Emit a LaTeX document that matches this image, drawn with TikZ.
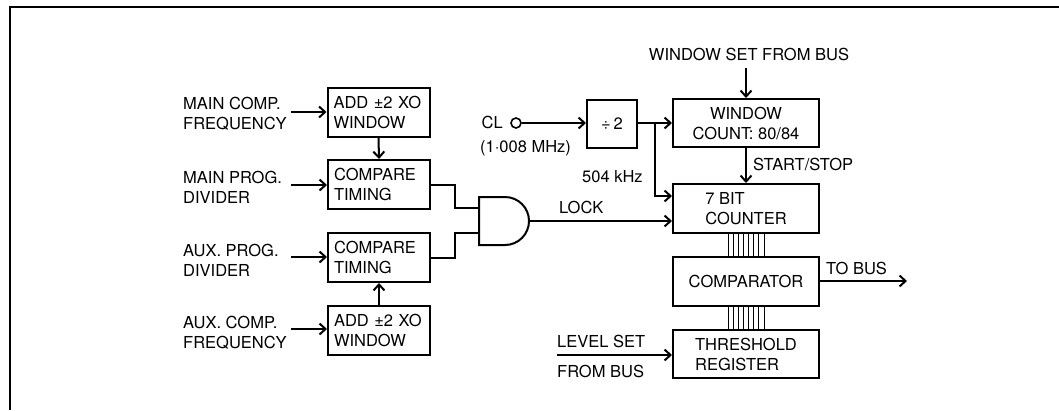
\documentclass[tikz,border=0pt]{standalone}
\usepackage{fontspec}
\setmainfont{TeX Gyre Heros}
\usetikzlibrary{arrows.meta,calc}
\begin{document}
\begin{tikzpicture}[x=1pt,y=-1pt,
  every node/.style={font=\fontsize{16.5}{20}\selectfont, inner sep=0pt},
  blk/.style={draw, line width=2pt, minimum width=102pt, minimum height=49pt},
  wblk/.style={draw, line width=2pt, minimum width=146pt, minimum height=48pt},
  wire/.style={line width=2pt},
  arr/.style={line width=2pt, -{Straight Barb[length=6pt,width=11pt,line width=2pt]}},
  bus/.style={line width=1pt},
  lbl/.style={align=left, anchor=west}]
\useasboundingbox (0,0) rectangle (1059,410);
% frame
\draw[line width=2pt] (10,410) -- (10,7) -- (1059,7);

% left blocks
\node[blk, align=left, text width=90pt] (addA) at (378.5,112) {ADD \char"00B1 2 XO\\WINDOW};
\node[blk, align=left, text width=90pt] (cmpA) at (379,184.5) {COMPARE\\TIMING};
\node[blk, align=left, text width=90pt] (cmpB) at (379,257.5) {COMPARE\\TIMING};
\node[blk, align=left, text width=90pt] (addB) at (379,330) {ADD \char"00B1 2 XO\\WINDOW};

% left labels
\node[lbl] (lMC) at (183,114) {MAIN COMP.\\FREQUENCY};
\node[lbl] (lMP) at (183,187) {MAIN PROG.\\DIVIDER};
\node[lbl] (lAP) at (183,260) {AUX. PROG.\\DIVIDER};
\node[lbl] (lAC) at (183,333) {AUX. COMP.\\FREQUENCY};

\coordinate (sMC) at (291,112);
\coordinate (sMP) at (291,185);
\coordinate (sAP) at (291,257);
\coordinate (sAC) at (291,329);
\draw[arr] (sMC) -- (addA.west |- sMC);
\draw[arr] (sMP) -- (cmpA.west |- sMP);
\draw[arr] (sAP) -- (cmpB.west |- sAP);
\draw[arr] (sAC) -- (addB.west |- sAC);
\draw[arr] (addA.south) -- (cmpA.north);
\draw[arr] (addB.north) -- (cmpB.south);

% AND gate
\coordinate (gIn1) at (479,208);
\coordinate (gIn2) at (479,233);
\coordinate (gOut) at (529,221);
\draw[line width=2pt] (479,197) -- (505,197) arc[start angle=-90, end angle=90, radius=24] -- (479,245) -- cycle;
\draw[wire] (cmpA.east) -- (455,184.5) |- (gIn1);
\draw[wire] (cmpB.east) -- (455,257.5) |- (gIn2);

% right blocks
\node[draw, line width=2pt, minimum width=50pt, minimum height=48pt] (div) at (612,124) {\char"00F7\,2};
\node[wblk, align=center] (wc) at (746,123) {WINDOW\\COUNT: 80/84};
\node[wblk, align=left, minimum height=49pt] (cnt) at (746,208.5) {7 BIT\\COUNTER};
\node[wblk, minimum height=49pt] (cmp) at (746,281.5) {COMPARATOR};
\node[wblk, align=left] (thr) at (746,354) {THRESHOLD\\REGISTER};

% clock input
\node[draw, circle, line width=1.6pt, minimum size=10pt] (cl) at (516,123) {};
\node[anchor=east] (tCL) at (503,122) {CL};
\node[anchor=west] (tMHz) at (480,148) {(1\char"00B7 008 MHz)};
\draw[arr] (cl.east) -- (div.west |- cl.east);
\coordinate (br) at (655,123);
\draw[arr] (div.east |- br) -- (wc.west |- br);
\draw[arr] (br) |- ($(cnt.west)+(0,-12.5)$);
\node[anchor=west] (t504) at (582,177) {504 kHz};

% lock
\draw[arr] (gOut) -- (cnt.west |- gOut);
\node[anchor=west] (tLock) at (559,207) {LOCK};

% window set
\node (tWS) at (749,54) {WINDOW SET FROM BUS};
\coordinate (ws) at (746,68);
\draw[arr] (ws) -- (wc.north);
\draw[arr] (wc.south) -- (cnt.north);
\node[anchor=west] (tSS) at (753,164) {START/STOP};

% buses
\foreach \dx in {-18,-13,-8,-3,2,7,12,18} {
  \draw[bus] ([xshift=\dx pt]cnt.south) -- ([xshift=\dx pt]cmp.north);
  \draw[bus] ([xshift=\dx pt]cmp.south) -- ([xshift=\dx pt]thr.north);
}

% to bus
\coordinate (tb) at (907,281);
\draw[arr] (cmp.east |- tb) -- (tb);
\node[anchor=west] (tTB) at (826,268) {TO BUS};

% level set
\coordinate (ls) at (557,355);
\draw[arr] (ls) -- (thr.west |- ls);
\node[anchor=west] (tLS) at (557,341) {LEVEL SET};
\node[anchor=west] (tFB) at (557,371) {FROM BUS};
\end{tikzpicture}
\end{document}
